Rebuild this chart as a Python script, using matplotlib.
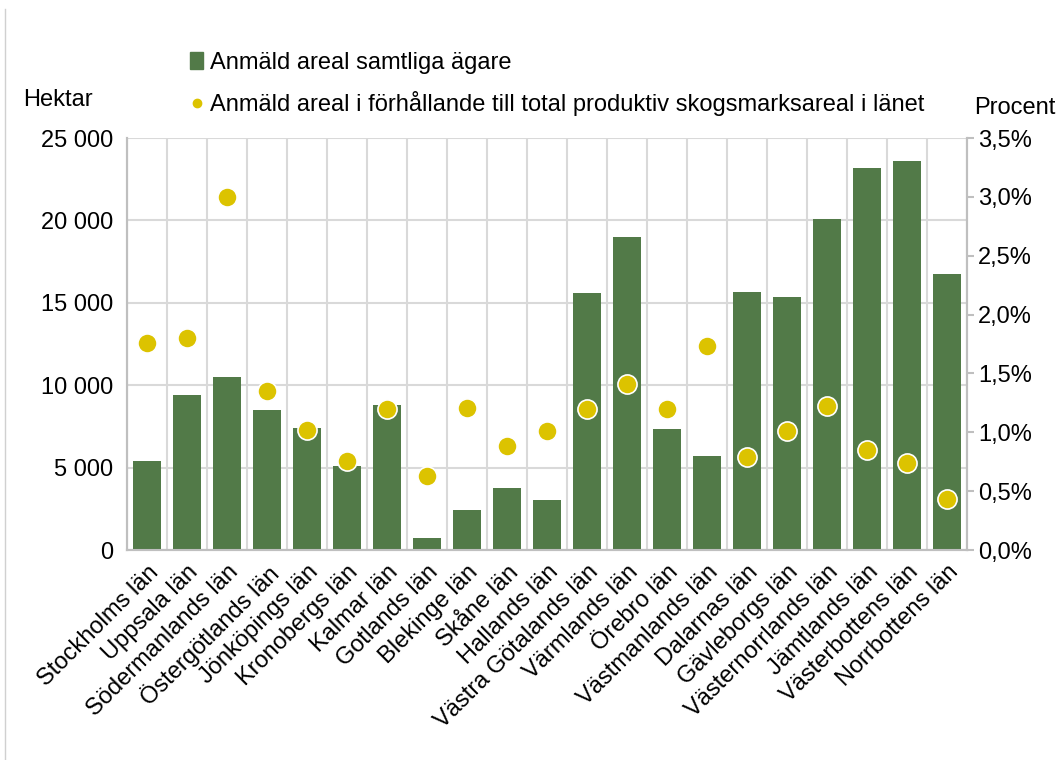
import numpy as np
import matplotlib.pyplot as plt
from matplotlib.lines import Line2D
from matplotlib.patches import Patch
from matplotlib.ticker import FuncFormatter, MultipleLocator

plt.rcParams['font.family'] = ['Liberation Sans', 'DejaVu Sans']

lan = ["Stockholms län", "Uppsala län", "Södermanlands län", "Östergötlands län",
       "Jönköpings län", "Kronobergs län", "Kalmar län", "Gotlands län",
       "Blekinge län", "Skåne län", "Hallands län", "Västra Götalands län",
       "Värmlands län", "Örebro län", "Västmanlands län", "Dalarnas län",
       "Gävleborgs län", "Västernorrlands län", "Jämtlands län",
       "Västerbottens län", "Norrbottens län"]
hektar = [5400, 9400, 10500, 8500, 7400, 5100, 8800, 700, 2450, 3750, 3050,
          15600, 19000, 7350, 5700, 15650, 15350, 20100, 23200, 23600, 16750]
procent = [1.76, 1.80, 3.00, 1.35, 1.02, 0.76, 1.20, 0.63, 1.21, 0.88, 1.01,
           1.20, 1.41, 1.20, 1.73, 0.79, 1.01, 1.22, 0.85, 0.74, 0.43]

green = '#527a48'
yellow = '#dcc300'
gridc = '#d9d9d9'
spinec = '#bfbfbf'
fs = 17

fig = plt.figure(figsize=(10.62, 7.6), dpi=100)
ax = fig.add_axes([0.1196, 0.2763, 0.7909, 0.5421])
ax2 = ax.twinx()

x = np.arange(len(lan))
ax.bar(x, hektar, width=0.68, color=green, zorder=3)
ax2.scatter(x, procent, s=190, color=yellow, edgecolor='white', linewidth=1.2, zorder=4)

ax.set_xlim(-0.5, len(lan) - 0.5)
ax.set_ylim(0, 25000)
ax2.set_ylim(0, 3.5)

ax.yaxis.set_major_locator(MultipleLocator(5000))
ax.yaxis.set_major_formatter(FuncFormatter(lambda v, p: f"{int(v):,}".replace(",", " ")))
ax2.yaxis.set_major_locator(MultipleLocator(0.5))
ax2.yaxis.set_major_formatter(FuncFormatter(lambda v, p: f"{v:.1f}%".replace(".", ",")))

ax.set_xticks(x)
ax.set_xticklabels(lan, rotation=45, ha='right', rotation_mode='anchor', fontsize=fs)
ax.set_xticks(np.arange(-0.5, len(lan), 1), minor=True)
ax.tick_params(axis='x', which='both', length=0, pad=8)
ax.grid(axis='x', which='minor', color=gridc, linewidth=1.5, zorder=0)
ax.grid(axis='y', which='major', color=gridc, linewidth=1.5, zorder=0)
ax.set_axisbelow(True)

ax.tick_params(axis='y', length=0, labelsize=fs, pad=10)
ax2.tick_params(axis='y', length=5, color=spinec, width=1.5, labelsize=fs, pad=3)

for a in (ax, ax2):
    a.spines['top'].set_visible(False)
    for s in ('left', 'right', 'bottom'):
        a.spines[s].set_color(spinec)
        a.spines[s].set_linewidth(1.5)

fig.text(0.022, 0.868, "Hektar", fontsize=fs, ha='left', va='center')
fig.text(0.917, 0.858, "Procent", fontsize=fs, ha='left', va='center')

handles = [Patch(color=green),
           Line2D([], [], marker='o', linestyle='none', color=yellow, markersize=6)]
labels = ["Anmäld areal samtliga ägare",
          "Anmäld areal i förhållande till total produktiv skogsmarksareal i länet"]
fig.legend(handles, labels, loc='upper left', bbox_to_anchor=(0.159, 0.96),
           frameon=False, fontsize=fs, handlelength=0.55, handletextpad=0.3,
           labelspacing=0.75)

fig.add_artist(Line2D([0.005, 0.005], [0.0, 0.988], transform=fig.transFigure,
                      color='#d0d0d0', linewidth=1))

fig.savefig('out.png', dpi=100)
